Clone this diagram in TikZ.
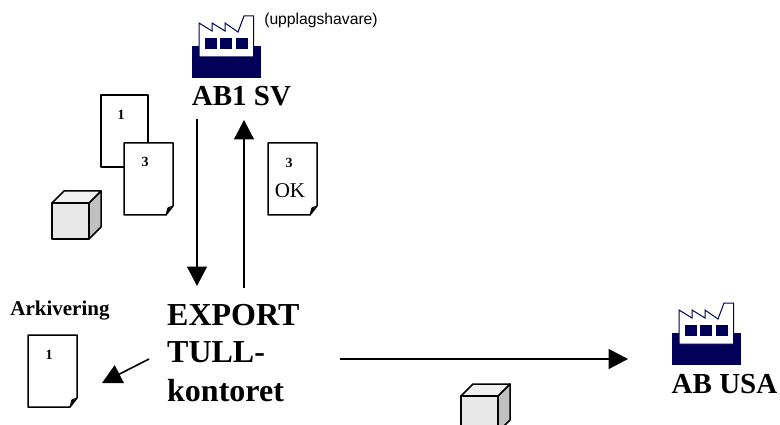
\documentclass[tikz,border=0pt]{standalone}
\usepackage{fontspec}
\setmainfont{Liberation Serif}
\newfontfamily\arialfont{Liberation Sans}
\usetikzlibrary{arrows.meta}
\definecolor{navyfac}{HTML}{000058}
\definecolor{cubefront}{HTML}{E8E8E8}
\definecolor{cubetop}{HTML}{F0F0F0}
\definecolor{cubeside}{HTML}{C0C0C0}
\tikzset{
  x=1pt,y=-1pt,
  conn/.style={line width=1.6pt,draw=black,-{Triangle[length=19.5pt,width=20pt]}},
  serifbold/.style={font=\fontsize{#1}{#1}\selectfont\bfseries,inner sep=0pt,text=black},
  docline/.style={line width=1.5pt,draw=black,fill=white,line join=round},
  factory/.pic={
    \fill[navyfac] (0,0) rectangle (69,32);
    \draw[navyfac,line width=1pt,fill=white,line join=miter] (7,11) -- (7,-23) -- (20,-15) -- (20,-23) -- (33,-15) -- (33,-23) -- (46,-14) -- (52,-30) -- (61.5,-30) -- (61.5,11) -- cycle;
    \fill[navyfac] (13,-8) rectangle (25,3);
    \fill[navyfac] (28,-8) rectangle (40,3);
    \fill[navyfac] (44,-8) rectangle (56,3);
  },
  docfold/.pic={
    \draw[docline] (0,0) -- (49,0) -- (49,63) -- (42,72) -- (0,72) -- cycle;
    \draw[line width=1.1pt,black] (42,72) -- (44,65) -- (49,63);
    \fill[black] (42,72) -- (44,65) -- (47,65.5) -- cycle;
  },
  cubepic/.pic={
    \draw[line width=1.5pt,draw=black,fill=cubeside,line join=round] (37,0) -- (49,-12) -- (49,24) -- (37,36) -- cycle;
    \draw[line width=1.5pt,draw=black,fill=cubetop,line join=round] (0,0) -- (12,-12) -- (49,-12) -- (37,0) -- cycle;
    \draw[line width=1.5pt,draw=black,fill=cubefront,line join=round] (0,0) rectangle (37,36);
  }
}
\begin{document}
\begin{tikzpicture}
\clip (0,0) rectangle (780,425);
\pic at (192,46) {factory};
\pic at (672,333) {factory};
\node[serifbold=29] (absv) at (241.5,96) {AB1 SV};
\node[serifbold=29] (abusa) at (724.5,384) {AB USA};
\node[font=\arialfont\fontsize{15.7}{16}\selectfont,inner sep=0pt,text=black] (upp) at (321,20.5) {(upplagshavare)};
\node[serifbold=21] (ark) at (60,311) {Arkivering};
\node[serifbold=32,anchor=west] (exp) at (167,315) {EXPORT};
\node[serifbold=32,anchor=west] (tull) at (167,352) {TULL-};
\node[serifbold=32,anchor=west] (kont) at (167,391) {kontoret};

% documents
\draw[docline] (101,95) rectangle (148,167);
\node[serifbold=14] (n1a) at (121,115) {1};
\pic at (124,143) {docfold};
\node[serifbold=14] (n3a) at (145,162) {3};
\pic at (268,143) {docfold};
\node[serifbold=14] (n3b) at (289,163) {3};
\node[font=\fontsize{21}{21}\selectfont,inner sep=0pt,text=black] (ok) at (290,191) {OK};
\pic at (28,335) {docfold};
\node[serifbold=14] (n1b) at (49,355) {1};

% cubes
\pic at (52,203) {cubepic};
\pic at (461,396) {cubepic};

% connectors
\coordinate (a1) at (197,119);
\coordinate (a2) at (197,286);
\coordinate (b1) at (244,288);
\coordinate (b2) at (244,120);
\coordinate (c1) at (340,359);
\coordinate (c2) at (628,359);
\coordinate (d1) at (149,359);
\coordinate (d2) at (102,383);
\draw[conn] (a1) -- (a2);
\draw[conn] (b1) -- (b2);
\draw[conn] (c1) -- (c2);
\draw[conn] (d1) -- (d2);
\end{tikzpicture}
\end{document}
